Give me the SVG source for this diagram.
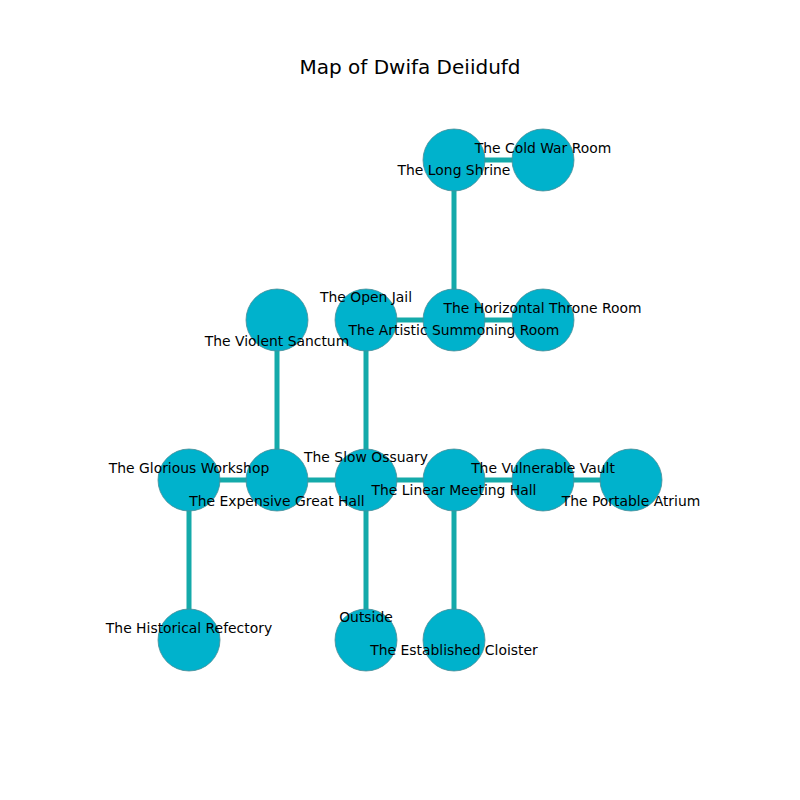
<svg xmlns="http://www.w3.org/2000/svg" width="800" height="800" viewBox="0 0 800 800">
<style>
.bg{fill:#ffffff}
.edge{stroke:#14aaaa;stroke-width:5;fill:none}
.node circle{fill:#00b2cc;stroke:#4a8d97;stroke-width:0.8}
.lbl{font-family:"DejaVu Sans",sans-serif;font-size:13.9px;fill:#000;text-anchor:middle}
.title{font-family:"DejaVu Sans",sans-serif;font-size:20px;fill:#000;text-anchor:middle}
</style>
<rect class="bg" x="0" y="0" width="800" height="800"/>
<text class="title" x="410" y="73.5">Map of Dwifa Deiidufd</text>
<g id="connectors">
<line class="edge" x1="454" y1="160" x2="543" y2="160"/>
<line class="edge" x1="454" y1="160" x2="454" y2="320"/>
<line class="edge" x1="366" y1="320" x2="454" y2="320"/>
<line class="edge" x1="454" y1="320" x2="543" y2="320"/>
<line class="edge" x1="277" y1="320" x2="277" y2="480"/>
<line class="edge" x1="366" y1="320" x2="366" y2="480"/>
<line class="edge" x1="189" y1="480" x2="277" y2="480"/>
<line class="edge" x1="277" y1="480" x2="366" y2="480"/>
<line class="edge" x1="366" y1="480" x2="454" y2="480"/>
<line class="edge" x1="454" y1="480" x2="543" y2="480"/>
<line class="edge" x1="543" y1="480" x2="631" y2="480"/>
<line class="edge" x1="189" y1="480" x2="189" y2="640"/>
<line class="edge" x1="366" y1="480" x2="366" y2="640"/>
<line class="edge" x1="454" y1="480" x2="454" y2="640"/>
</g>
<g id="node-long-shrine" class="node"><circle cx="454" cy="160" r="31"/></g>
<g id="node-cold-war-room" class="node"><circle cx="543" cy="160" r="31"/></g>
<g id="node-violent-sanctum" class="node"><circle cx="277" cy="320" r="31"/></g>
<g id="node-open-jail" class="node"><circle cx="366" cy="320" r="31"/></g>
<g id="node-artistic-summoning-room" class="node"><circle cx="454" cy="320" r="31"/></g>
<g id="node-horizontal-throne-room" class="node"><circle cx="543" cy="320" r="31"/></g>
<g id="node-glorious-workshop" class="node"><circle cx="189" cy="480" r="31"/></g>
<g id="node-expensive-great-hall" class="node"><circle cx="277" cy="480" r="31"/></g>
<g id="node-slow-ossuary" class="node"><circle cx="366" cy="480" r="31"/></g>
<g id="node-linear-meeting-hall" class="node"><circle cx="454" cy="480" r="31"/></g>
<g id="node-vulnerable-vault" class="node"><circle cx="543" cy="480" r="31"/></g>
<g id="node-portable-atrium" class="node"><circle cx="631" cy="480" r="31"/></g>
<g id="node-historical-refectory" class="node"><circle cx="189" cy="640" r="31"/></g>
<g id="node-outside" class="node"><circle cx="366" cy="640" r="31"/></g>
<g id="node-established-cloister" class="node"><circle cx="454" cy="640" r="31"/></g>
<g id="labels">
<text class="lbl" x="543" y="153.3">The Cold War Room</text>
<text class="lbl" x="454" y="175">The Long Shrine</text>
<text class="lbl" x="366" y="302.3">The Open Jail</text>
<text class="lbl" x="542.5" y="313.3">The Horizontal Throne Room</text>
<text class="lbl" x="454" y="335">The Artistic Summoning Room</text>
<text class="lbl" x="277" y="346">The Violent Sanctum</text>
<text class="lbl" x="366" y="461.7">The Slow Ossuary</text>
<text class="lbl" x="189" y="473.3">The Glorious Workshop</text>
<text class="lbl" x="543" y="473.3">The Vulnerable Vault</text>
<text class="lbl" x="454" y="495">The Linear Meeting Hall</text>
<text class="lbl" x="277" y="506">The Expensive Great Hall</text>
<text class="lbl" x="631" y="506">The Portable Atrium</text>
<text class="lbl" x="366" y="622">Outside</text>
<text class="lbl" x="189" y="633.3">The Historical Refectory</text>
<text class="lbl" x="454" y="655">The Established Cloister</text>
</g>
</svg>
